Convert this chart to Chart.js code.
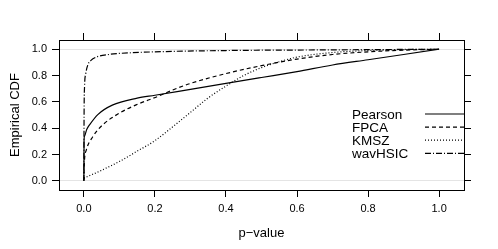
<!DOCTYPE html>
<html>
<head>
<meta charset="utf-8">
<script src="https://cdn.jsdelivr.net/npm/chart.js@4/dist/chart.umd.min.js"></script>
<style>
  html, body { margin: 0; padding: 0; background: #fff; }
  #wrap { width: 498px; height: 249px; }
</style>
</head>
<body>
<div id="wrap"><canvas id="c"></canvas></div>
<script>
// ECDF curves (p-value, cumulative share)
var seriesNames = ['Pearson', 'FPCA', 'KMSZ', 'wavHSIC'];

var pearsonX = [0, 0.0005, 0.002, 0.008, 0.016, 0.04, 0.08, 0.15, 0.2, 0.3, 0.4, 0.5, 0.6, 0.7, 0.8, 0.9, 1];
var pearsonY = [0, 0.31, 0.34, 0.39, 0.425, 0.505, 0.575, 0.628, 0.65, 0.695, 0.74, 0.785, 0.83, 0.88, 0.92, 0.96, 1];

var fpcaX = [0, 0.001, 0.007, 0.025, 0.053, 0.1, 0.147, 0.207, 0.25, 0.3, 0.4, 0.5, 0.6, 0.7, 0.8, 0.9, 1];
var fpcaY = [0, 0.12, 0.235, 0.335, 0.425, 0.514, 0.577, 0.64, 0.69, 0.74, 0.815, 0.875, 0.925, 0.96, 0.98, 0.993, 1];

var kmszX = [0, 0.05, 0.1, 0.15, 0.2, 0.25, 0.3, 0.35, 0.4, 0.45, 0.5, 0.55, 0.6, 0.7, 0.8, 0.9, 1];
var kmszY = [0.02, 0.08, 0.147, 0.225, 0.305, 0.41, 0.52, 0.63, 0.72, 0.80, 0.86, 0.905, 0.94, 0.975, 0.99, 0.997, 1];

var wavX = [0, 0.0005, 0.002, 0.005, 0.011, 0.02, 0.035, 0.07, 0.1, 0.2, 0.4, 0.7, 1];
var wavY = [0, 0.45, 0.72, 0.81, 0.88, 0.915, 0.94, 0.96, 0.968, 0.98, 0.99, 0.995, 1];

var xTicks = [0, 0.2, 0.4, 0.6, 0.8, 1.0];
var yTicks = [0, 0.2, 0.4, 0.6, 0.8, 1.0];

var dashes = [[], [4, 3], [1, 2], [6, 2, 1, 2]];

function pts(xs, ys) {
    return xs.map(function (x, i) { return { x: x, y: ys[i] }; });
}

var FONT = '"Liberation Sans", Arial, Helvetica, sans-serif';

var curves = [pts(pearsonX, pearsonY), pts(fpcaX, fpcaY), pts(kmszX, kmszY), pts(wavX, wavY)];

var datasets = curves.map(function (d, i) {
    return {
        label: seriesNames[i],
        data: d,
        borderColor: '#000',
        borderWidth: 1.2,
        borderDash: dashes[i],
        pointRadius: 0,
        fill: false,
        showLine: true,
        cubicInterpolationMode: 'monotone'
    };
});

function fixTicks(list) {
    return function (axis) {
        axis.ticks = list.map(function (v) { return { value: v }; });
    };
}

// legend drawn inside the plot, text left and line sample right
var innerLegend = {
    id: 'innerLegend',
    afterDraw: function (chart) {
        var ctx = chart.ctx;
        var area = chart.chartArea;
        ctx.save();
        ctx.font = '13.5px ' + FONT;
        ctx.fillStyle = '#000';
        ctx.textBaseline = 'middle';
        chart.data.datasets.forEach(function (ds, i) {
            var y = 114 + i * 13.1;
            ctx.fillText(ds.label, 352, y + 1);
            ctx.beginPath();
            ctx.setLineDash(ds.borderDash);
            ctx.lineWidth = 1.2;
            ctx.strokeStyle = '#000';
            ctx.moveTo(425, y);
            ctx.lineTo(area.right, y);
            ctx.stroke();
        });
        ctx.restore();
    }
};

var tickFont = { family: FONT, size: 11 };

new Chart(document.getElementById('c').getContext('2d'), {
    type: 'scatter',
    data: { datasets: datasets },
    plugins: [innerLegend],
    options: {
        responsive: true,
        maintainAspectRatio: false,
        animation: false,
        layout: { padding: 0 },
        plugins: { legend: { display: false }, tooltip: { enabled: false } },
        scales: {
            x: {
                type: 'linear', position: 'bottom', min: -0.07, max: 1.07,
                afterBuildTicks: fixTicks(xTicks),
                afterFit: function (s) { s.height = 59; },
                border: { display: true, color: '#000', width: 1 },
                grid: { drawOnChartArea: false, tickLength: 7, tickColor: '#000' },
                ticks: { color: '#000', font: tickFont, padding: 5, maxRotation: 0,
                    callback: function (v) { return v.toFixed(1); } },
                title: { display: true, text: 'p\u2212value', color: '#000',
                    font: { family: FONT, size: 13 }, padding: { top: 8, bottom: 8 } }
            },
            x2: {
                type: 'linear', position: 'top', min: -0.07, max: 1.07,
                afterBuildTicks: fixTicks(xTicks),
                afterFit: function (s) { s.height = 40; },
                border: { display: true, color: '#000', width: 1 },
                grid: { drawOnChartArea: false, tickLength: 7, tickColor: '#000' },
                ticks: { display: false }
            },
            y: {
                type: 'linear', position: 'left', min: -0.07, max: 1.07,
                afterBuildTicks: fixTicks(yTicks),
                afterFit: function (s) { s.width = 59; },
                border: { display: true, color: '#000', width: 1 },
                grid: {
                    drawOnChartArea: true, tickLength: 7, tickColor: '#000',
                    color: function (c) {
                        var v = c.tick ? c.tick.value : null;
                        return (v === 0 || v === 1) ? '#e4e4e4' : 'rgba(0,0,0,0)';
                    }
                },
                ticks: { color: '#000', font: tickFont, padding: 5,
                    callback: function (v) { return v.toFixed(1); } },
                title: { display: true, text: 'Empirical CDF', color: '#000',
                    font: { family: FONT, size: 13 }, padding: { top: 8, bottom: 8 } }
            },
            y2: {
                type: 'linear', position: 'right', min: -0.07, max: 1.07,
                afterBuildTicks: fixTicks(yTicks),
                afterFit: function (s) { s.width = 34; },
                border: { display: true, color: '#000', width: 1 },
                grid: { drawOnChartArea: false, tickLength: 7, tickColor: '#000' },
                ticks: { display: false }
            }
        }
    }
});
</script>
</body>
</html>
